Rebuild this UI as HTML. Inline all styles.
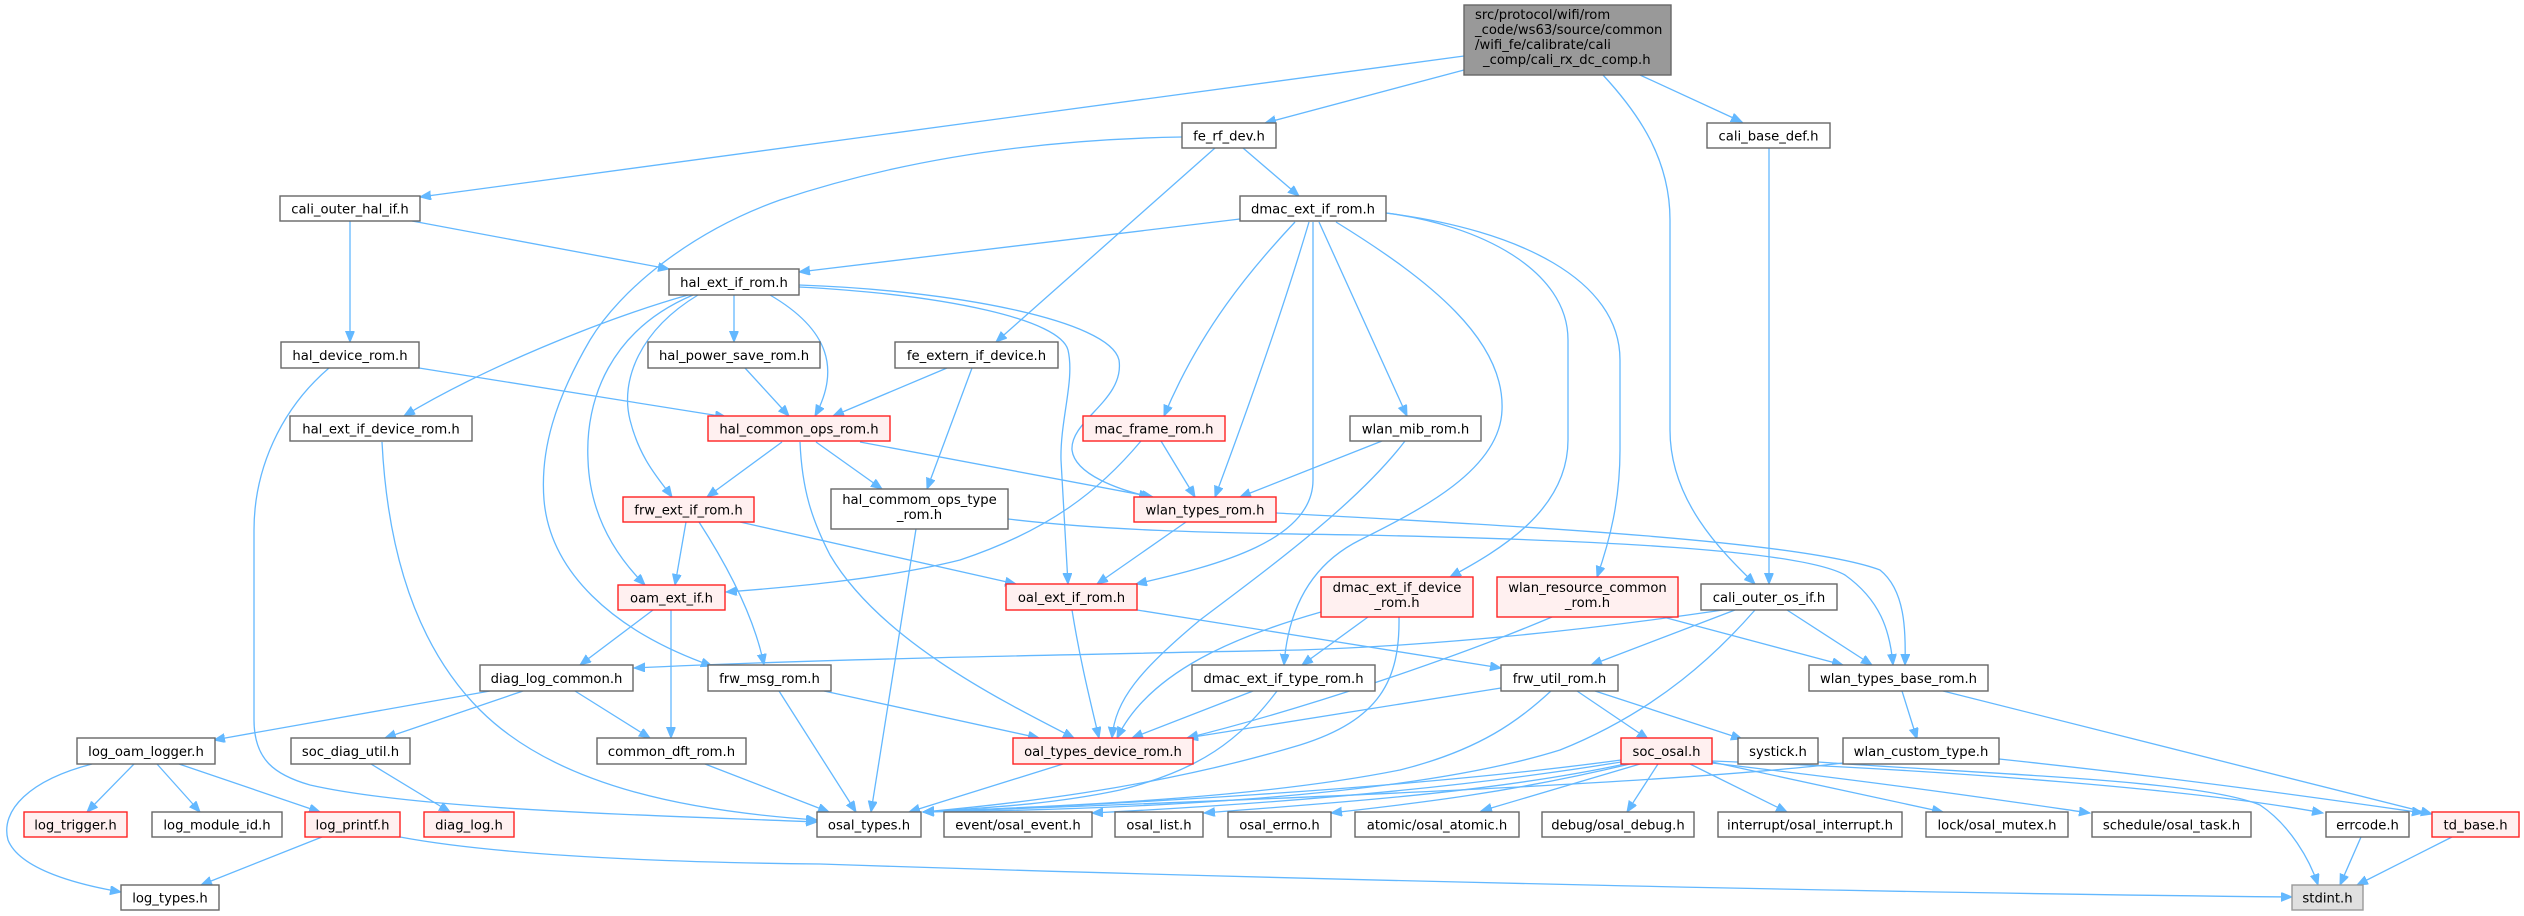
<!DOCTYPE html>
<html><head><meta charset="utf-8"><style>
html,body{margin:0;padding:0;background:#fff;}
svg{display:block;}
text{font-family:"DejaVu Sans","Liberation Sans",sans-serif;font-size:13.2px;fill:#000;}
.e{fill:none;stroke:#63b8ff;stroke-width:1.3;marker-end:url(#a);}
.n{fill:#fff;stroke:#666;stroke-width:1.4;}
.r{fill:#fff0f0;stroke:#f22;stroke-width:1.4;}
.g{fill:#999;stroke:#666;stroke-width:1.4;}
.s{fill:#e0e0e0;stroke:#999;stroke-width:1.4;}
</style></head><body>
<svg width="2524" height="916" viewBox="0 0 2524 916" xmlns="http://www.w3.org/2000/svg">
<defs><marker id="a" markerWidth="12" markerHeight="10" refX="11" refY="4.5" orient="auto" markerUnits="userSpaceOnUse"><path d="M0,0 L11,4.5 L0,9 z" fill="#63b8ff" stroke="#63b8ff" stroke-width="1"/></marker></defs>
<g>
<path class="e" d="M1464,56 L420,197"/>
<path class="e" d="M1464,70 L1265,123"/>
<path class="e" d="M1603,75 C1640,115 1670,160 1670,220 L1670,430 C1670,500 1720,550 1755,584"/>
<path class="e" d="M1640,75 L1742,122"/>
<path class="e" d="M1182,137 C1000,140 870,170 780,200 C690,232 620,290 590,340 C555,400 540,450 544,500 C550,570 610,630 712,666"/>
<path class="e" d="M1215,148 L996,342"/>
<path class="e" d="M1243,148 L1299,196"/>
<path class="e" d="M412,221 L669,269"/>
<path class="e" d="M350,221 L350,342"/>
<path class="e" d="M1240,219 L799,272"/>
<path class="e" d="M1295,222 C1250,270 1200,330 1164,416"/>
<path class="e" d="M1309,222 C1280,320 1240,430 1215,497"/>
<path class="e" d="M1313,222 L1313,480 C1313,540 1220,565 1136,584"/>
<path class="e" d="M1319,222 L1407,416"/>
<path class="e" d="M1336,222 C1430,280 1505,340 1502,410 C1500,470 1420,510 1360,540 C1310,565 1288,610 1284,665"/>
<path class="e" d="M1386,213 C1480,225 1568,270 1568,340 L1568,440 C1568,510 1500,550 1450,577"/>
<path class="e" d="M1386,213 C1520,230 1620,280 1620,360 L1620,450 C1620,500 1610,540 1597,577"/>
<path class="e" d="M688,295 C600,320 480,370 404,416"/>
<path class="e" d="M734,295 L734,342"/>
<path class="e" d="M770,295 C830,330 840,370 815,416"/>
<path class="e" d="M698,295 C640,330 620,380 630,420 C640,460 660,480 672,497"/>
<path class="e" d="M693,295 C610,330 585,400 588,460 C590,520 620,560 645,585"/>
<path class="e" d="M799,285 C950,290 1110,320 1119,360 C1125,400 1070,420 1072,450 C1075,475 1120,490 1150,497"/>
<path class="e" d="M799,287 C950,295 1060,320 1068,350 C1075,380 1060,420 1061,460 L1068,584"/>
<path class="e" d="M419,368 L726,417"/>
<path class="e" d="M329,368 C280,410 254,470 254,530 L254,720 C254,760 275,775 310,785 C420,810 650,815 817,822"/>
<path class="e" d="M382,442 C388,560 420,650 480,710 C560,790 700,812 817,820"/>
<path class="e" d="M947,368 L833,416"/>
<path class="e" d="M972,368 L927,489"/>
<path class="e" d="M745,368 L789,416"/>
<path class="e" d="M782,442 L707,497"/>
<path class="e" d="M816,442 L882,489"/>
<path class="e" d="M860,442 L1153,497"/>
<path class="e" d="M800,442 C802,490 812,520 830,555 C880,640 1000,700 1074,738"/>
<path class="e" d="M686,522 L675,585"/>
<path class="e" d="M699,522 C730,570 755,620 764,665"/>
<path class="e" d="M740,522 L1016,584"/>
<path class="e" d="M1161,441 L1195,497"/>
<path class="e" d="M1141,441 C1100,490 1050,530 960,560 C880,580 780,588 726,592"/>
<path class="e" d="M1382,441 L1240,497"/>
<path class="e" d="M1405,441 C1360,500 1280,560 1200,620 C1140,670 1115,700 1112,738"/>
<path class="e" d="M916,529 L871,812"/>
<path class="e" d="M1276,513 C1500,525 1800,540 1880,570 C1905,590 1906,630 1905,665"/>
<path class="e" d="M1008,519 C1100,530 1200,533 1360,535 C1600,540 1800,550 1845,575 C1880,600 1890,630 1893,665"/>
<path class="e" d="M1186,522 L1097,584"/>
<path class="e" d="M653,610 L580,665"/>
<path class="e" d="M671,610 L671,738"/>
<path class="e" d="M1072,610 C1080,660 1090,700 1099,738"/>
<path class="e" d="M1137,610 L1501,668"/>
<path class="e" d="M1368,617 L1302,665"/>
<path class="e" d="M1321,612 C1240,635 1150,670 1117,738"/>
<path class="e" d="M1399,617 C1400,680 1380,720 1300,745 C1150,790 1000,805 923,812"/>
<path class="e" d="M1552,617 C1450,660 1300,710 1187,738"/>
<path class="e" d="M1663,617 L1843,665"/>
<path class="e" d="M1723,610 C1600,628 1450,645 1300,650 C1000,656 800,660 634,668"/>
<path class="e" d="M1735,610 L1591,665"/>
<path class="e" d="M1787,610 L1872,665"/>
<path class="e" d="M1755,610 C1720,650 1660,710 1560,750 C1400,800 1100,810 923,812"/>
<path class="e" d="M1769,148 L1769,584"/>
<path class="e" d="M490,691 L214,740"/>
<path class="e" d="M523,691 L385,738"/>
<path class="e" d="M575,691 L650,738"/>
<path class="e" d="M779,691 L856,812"/>
<path class="e" d="M824,691 L1039,738"/>
<path class="e" d="M705,764 L829,812"/>
<path class="e" d="M1253,691 L1132,738"/>
<path class="e" d="M1277,691 C1240,740 1200,770 1120,790 C1050,805 980,808 923,812"/>
<path class="e" d="M1063,764 L909,812"/>
<path class="e" d="M1501,688 L1187,738"/>
<path class="e" d="M1552,690 C1520,720 1480,750 1400,770 C1250,800 1050,806 923,812"/>
<path class="e" d="M1577,691 L1648,739"/>
<path class="e" d="M1595,691 L1742,739"/>
<path class="e" d="M1902,691 L1917,739"/>
<path class="e" d="M1943,691 L2432,814"/>
<path class="e" d="M1999,759 C2150,775 2300,795 2423,813"/>
<path class="e" d="M1843,763 C1700,780 1400,795 923,812"/>
<path class="e" d="M1621,760 C1400,790 1100,805 923,812"/>
<path class="e" d="M1621,762 C1450,790 1250,805 1092,813"/>
<path class="e" d="M1625,764 C1480,795 1300,805 1204,813"/>
<path class="e" d="M1630,764 C1500,795 1400,805 1331,813"/>
<path class="e" d="M1640,764 L1481,811"/>
<path class="e" d="M1658,764 L1627,812"/>
<path class="e" d="M1690,764 L1787,812"/>
<path class="e" d="M1712,762 L1943,812"/>
<path class="e" d="M1712,763 C1900,785 2000,800 2090,813"/>
<path class="e" d="M1712,761 C1950,770 2200,790 2323,813"/>
<path class="e" d="M1818,762 C2000,775 2200,780 2260,805 C2290,825 2310,860 2318,885"/>
<path class="e" d="M2361,837 L2340,885"/>
<path class="e" d="M2452,837 L2357,885"/>
<path class="e" d="M400,837 C480,852 620,862 820,864 C1300,880 1900,893 2292,897"/>
<path class="e" d="M322,837 L201,885"/>
<path class="e" d="M92,764 C30,780 0,810 8,840 C20,870 80,885 121,892"/>
<path class="e" d="M134,764 L87,812"/>
<path class="e" d="M157,764 L200,812"/>
<path class="e" d="M179,764 L320,812"/>
<path class="e" d="M371,764 L450,812"/>
</g>
<g>
<rect class="g" x="1464" y="5" width="207" height="70"/>
<text x="1475" y="19">src/protocol/wifi/rom</text>
<text x="1475" y="34">_code/ws63/source/common</text>
<text x="1475" y="49">/wifi_fe/calibrate/cali</text>
<text x="1483" y="64">_comp/cali_rx_dc_comp.h</text>
</g>
<g text-anchor="middle">
<rect class="n" x="280" y="196" width="140" height="25"/><text x="350" y="213.5">cali_outer_hal_if.h</text>
<rect class="n" x="1182" y="123" width="94" height="25"/><text x="1229" y="140.5">fe_rf_dev.h</text>
<rect class="n" x="1707" y="123" width="123" height="25"/><text x="1768.5" y="140.5">cali_base_def.h</text>
<rect class="n" x="1240" y="196" width="146" height="25"/><text x="1313" y="213.5">dmac_ext_if_rom.h</text>
<rect class="n" x="669" y="269" width="130" height="26"/><text x="734" y="287">hal_ext_if_rom.h</text>
<rect class="n" x="281" y="342" width="138" height="26"/><text x="350" y="360">hal_device_rom.h</text>
<rect class="n" x="648" y="342" width="172" height="26"/><text x="734" y="360">hal_power_save_rom.h</text>
<rect class="n" x="895" y="342" width="163" height="26"/><text x="976.5" y="360">fe_extern_if_device.h</text>
<rect class="n" x="290" y="416" width="182" height="25"/><text x="381" y="433.5">hal_ext_if_device_rom.h</text>
<rect class="r" x="708" y="416" width="182" height="25"/><text x="799" y="433.5">hal_common_ops_rom.h</text>
<rect class="r" x="1083" y="416" width="142" height="25"/><text x="1154" y="433.5">mac_frame_rom.h</text>
<rect class="n" x="1350" y="416" width="131" height="25"/><text x="1415.5" y="433.5">wlan_mib_rom.h</text>
<rect class="r" x="623" y="497" width="131" height="25"/><text x="688.5" y="514.5">frw_ext_if_rom.h</text>
<rect class="n" x="831" y="489" width="177" height="40"/><text x="919.5" y="504">hal_commom_ops_type</text><text x="919.5" y="519">_rom.h</text>
<rect class="r" x="1134" y="497" width="142" height="25"/><text x="1205" y="514.5">wlan_types_rom.h</text>
<rect class="r" x="618" y="585" width="107" height="25"/><text x="671.5" y="602.5">oam_ext_if.h</text>
<rect class="r" x="1006" y="584" width="131" height="26"/><text x="1071.5" y="602">oal_ext_if_rom.h</text>
<rect class="r" x="1321" y="577" width="152" height="40"/><text x="1397" y="592">dmac_ext_if_device</text><text x="1397" y="607">_rom.h</text>
<rect class="r" x="1497" y="577" width="181" height="40"/><text x="1587.5" y="592">wlan_resource_common</text><text x="1587.5" y="607">_rom.h</text>
<rect class="n" x="1701" y="584" width="136" height="26"/><text x="1769" y="602">cali_outer_os_if.h</text>
<rect class="n" x="480" y="665" width="153" height="26"/><text x="556.5" y="683">diag_log_common.h</text>
<rect class="n" x="708" y="665" width="123" height="26"/><text x="769.5" y="683">frw_msg_rom.h</text>
<rect class="n" x="1192" y="665" width="183" height="26"/><text x="1283.5" y="683">dmac_ext_if_type_rom.h</text>
<rect class="n" x="1501" y="665" width="117" height="26"/><text x="1559.5" y="683">frw_util_rom.h</text>
<rect class="n" x="1809" y="665" width="179" height="26"/><text x="1898.5" y="683">wlan_types_base_rom.h</text>
<rect class="n" x="77" y="738" width="138" height="26"/><text x="146" y="756">log_oam_logger.h</text>
<rect class="n" x="291" y="738" width="119" height="26"/><text x="350.5" y="756">soc_diag_util.h</text>
<rect class="n" x="597" y="738" width="149" height="26"/><text x="671.5" y="756">common_dft_rom.h</text>
<rect class="r" x="1013" y="738" width="180" height="26"/><text x="1103" y="756">oal_types_device_rom.h</text>
<rect class="r" x="1621" y="738" width="91" height="26"/><text x="1666.5" y="756">soc_osal.h</text>
<rect class="n" x="1738" y="738" width="80" height="26"/><text x="1778" y="756">systick.h</text>
<rect class="n" x="1843" y="738" width="156" height="26"/><text x="1921" y="756">wlan_custom_type.h</text>
<rect class="r" x="24" y="812" width="103" height="25"/><text x="75.5" y="829.5">log_trigger.h</text>
<rect class="n" x="152" y="812" width="130" height="25"/><text x="217" y="829.5">log_module_id.h</text>
<rect class="r" x="305" y="812" width="95" height="25"/><text x="352.5" y="829.5">log_printf.h</text>
<rect class="r" x="424" y="812" width="90" height="25"/><text x="469" y="829.5">diag_log.h</text>
<rect class="n" x="817" y="812" width="104" height="25"/><text x="869" y="829.5">osal_types.h</text>
<rect class="n" x="944" y="812" width="148" height="25"/><text x="1018" y="829.5">event/osal_event.h</text>
<rect class="n" x="1115" y="812" width="88" height="25"/><text x="1159" y="829.5">osal_list.h</text>
<rect class="n" x="1228" y="812" width="103" height="25"/><text x="1279.5" y="829.5">osal_errno.h</text>
<rect class="n" x="1355" y="812" width="164" height="25"/><text x="1437" y="829.5">atomic/osal_atomic.h</text>
<rect class="n" x="1542" y="812" width="152" height="25"/><text x="1618" y="829.5">debug/osal_debug.h</text>
<rect class="n" x="1718" y="812" width="184" height="25"/><text x="1810" y="829.5">interrupt/osal_interrupt.h</text>
<rect class="n" x="1926" y="812" width="142" height="25"/><text x="1997" y="829.5">lock/osal_mutex.h</text>
<rect class="n" x="2092" y="812" width="159" height="25"/><text x="2171.5" y="829.5">schedule/osal_task.h</text>
<rect class="n" x="2326" y="812" width="83" height="25"/><text x="2367.5" y="829.5">errcode.h</text>
<rect class="r" x="2432" y="812" width="87" height="25"/><text x="2475.5" y="829.5">td_base.h</text>
<rect class="n" x="121" y="885" width="98" height="25"/><text x="170" y="902.5">log_types.h</text>
<rect class="s" x="2292" y="885" width="71" height="25"/><text x="2327.5" y="902.5">stdint.h</text>
</g>
</svg>
</body></html>
